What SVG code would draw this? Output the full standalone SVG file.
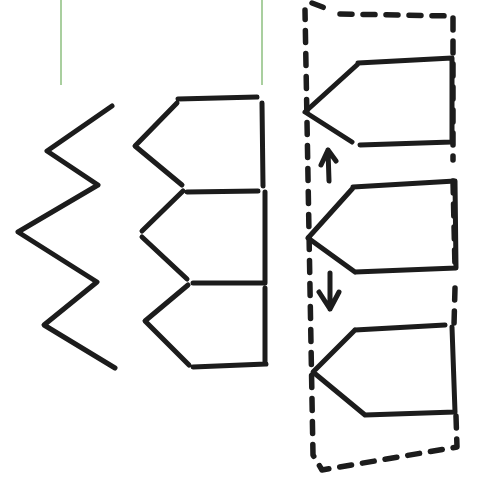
<svg xmlns="http://www.w3.org/2000/svg" width="477" height="495" viewBox="0 0 477 495">
<style>
.s{fill:none;stroke:#1c1c1c;stroke-width:5;stroke-linecap:round;stroke-linejoin:round}
.d{fill:none;stroke:#1c1c1c;stroke-width:5.5;stroke-linecap:round;stroke-linejoin:round;stroke-dasharray:12 11}
.g{stroke:#a9cf9f;stroke-width:2}
</style>
<rect width="477" height="495" fill="#ffffff"/>
<g id="guides">
<line class="g" x1="61" y1="0" x2="61" y2="85"/>
<line class="g" x1="262" y1="0" x2="262" y2="85"/>
</g>
<g id="zigzag">
<polyline class="s" points="112,106 47,151 98,185 18,232 97,282 44,325 115,368"/>
</g>
<g id="stack">
<path class="s" d="M178,99 L257,97 M177,103 L135,146 L182,185 M262,103 L263,186"/>
<path class="s" d="M187,192 L258,191 M183,191 L142,231 M142,237 L187,279 M265,192 L265,283"/>
<path class="s" d="M193,283 L264,283 M188,285 L145,321 L189,365 M193,367 L266,364 M265,288 L265,364"/>
</g>
<g id="box">
<path class="d" d="M312,3 L325,8 M340,14 L453,16 L453,160 M453,181 L455,268 M455,288 L454,325 M456,416 L457,447 L322,470 L313,455 L305,10"/>
</g>
<g id="card1">
<path class="s" d="M358,63 L452,58 L452,142 L360,145 M352,142 L305,112 L358,64"/>
</g>
<g id="card2">
<path class="s" d="M353,187 L455,181 L456,268 L355,272 M355,272 L308,238 L353,188"/>
</g>
<g id="card3">
<path class="s" d="M355,330 L445,325 M452,327 L455,412 L365,415 L313,372 L355,330"/>
</g>
<g id="connectors">
<path class="s" d="M329,181 L328,150 M321,165 L328,150 L336,161"/>
<path class="s" d="M330,273 L330,309 M319,292 L330,309 L339,292"/>
</g>
</svg>
